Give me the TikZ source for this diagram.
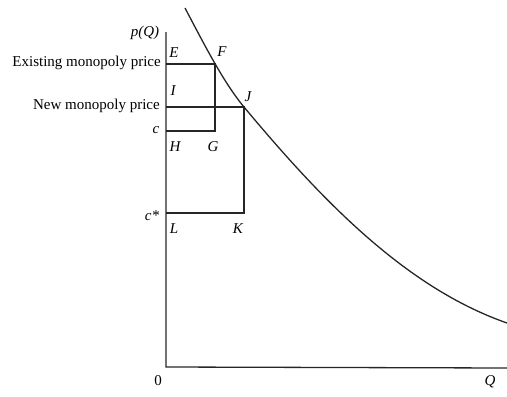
\documentclass[tikz,border=0pt]{standalone}
\usepackage{fontspec}
\setmainfont{Liberation Serif}
\begin{document}
\begin{tikzpicture}[x=1pt,y=-1pt,
  ln/.style={line width=1.3pt,black!85},
  lab/.style={font=\fontsize{15}{15}\selectfont\itshape,inner sep=0pt},
  txt/.style={font=\fontsize{15}{15}\selectfont,inner sep=0pt,anchor=east}]
\useasboundingbox (0,0) rectangle (507,397);
% key points
\coordinate (top) at (166,32);
\coordinate (O) at (166,367);
\coordinate (Qend) at (507,368);
\coordinate (E) at (166,64);
\coordinate (F) at (215,64);
\coordinate (I) at (166,107);
\coordinate (J) at (244,107);
\coordinate (H) at (166,131);
\coordinate (G) at (215,131);
\coordinate (L) at (166,213);
\coordinate (K) at (244,213);
\coordinate (Dtop) at (185,8);
\coordinate (Dend) at (507,323);
% axes
\draw[ln] (top) -- (O) -- (Qend);
% demand curve
\draw[ln] (Dtop) .. controls (205,46) and (224,83) .. (J)
  .. controls (324,203) and (407,288) .. (Dend);
% rectangles
\draw[ln] (E) -- (F) -- (G) -- (H);
\draw[ln] (I) -- (J) -- (K) -- (L);
% labels
\node[lab] (pQ) at (145,33) {p(Q)};
\node[lab] (lE) at (174,53) {E};
\node[lab] (lF) at (222,52) {F};
\node[txt] (ex) at (161,63) {Existing monopoly price};
\node[lab] (lI) at (173,91) {I};
\node[lab] (lJ) at (248,97) {J};
\node[txt] (nw) at (160,106) {New monopoly price};
\node[lab] (lc) at (156,130) {c};
\node[lab] (lH) at (175,147) {H};
\node[lab] (lG) at (213,147) {G};
\node[lab] (lcs) at (152,216) {c*};
\node[lab] (lL) at (174,229) {L};
\node[lab] (lK) at (238,229) {K};
\node[lab,font=\fontsize{15}{15}\selectfont] (l0) at (158,381) {0};
\node[lab] (lQ) at (490,382) {Q};
\end{tikzpicture}
\end{document}
